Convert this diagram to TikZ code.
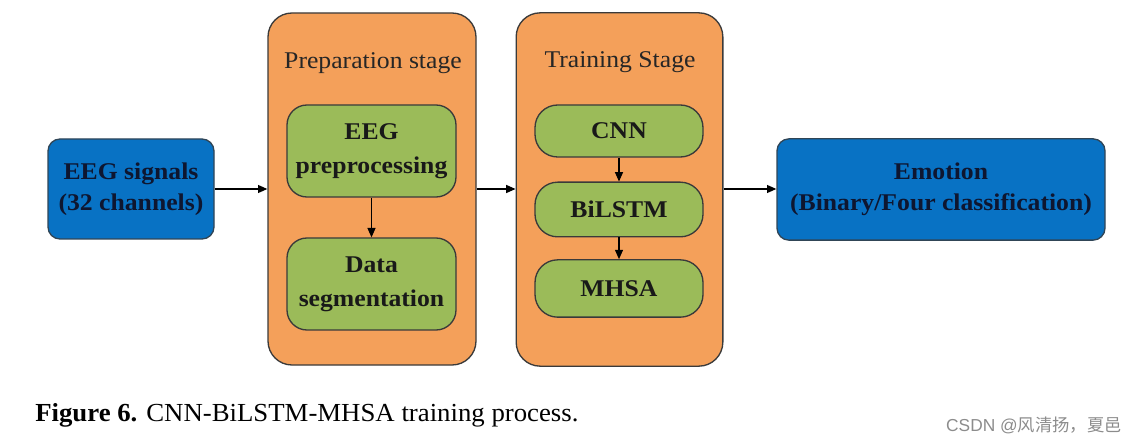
\documentclass[tikz,border=0pt]{standalone}
\usepackage{fontspec}
\setmainfont{Liberation Serif}
\newfontfamily\wideserif[FakeStretch=1.07]{Liberation Serif}
\newfontfamily\capserif[FakeStretch=1.03]{Liberation Serif}
\newfontfamily\cjkfont{Noto Sans CJK SC}
\newfontfamily\wmfont{Liberation Sans}
\usetikzlibrary{arrows.meta,positioning}
\definecolor{boxblue}{HTML}{0872C4}
\definecolor{boxorange}{HTML}{F4A05A}
\definecolor{boxgreen}{HTML}{9BBB59}
\definecolor{edgegray}{HTML}{3A3A3A}
\definecolor{navytext}{HTML}{0E1630}
\tikzset{
  px/.style={x=0.75pt,y=-0.75pt},
  bluebox/.style={draw=edgegray!80!boxblue,line width=1pt,fill=boxblue,rounded corners=9pt,text=navytext,font=\wideserif\fontsize{18}{23.3}\selectfont\bfseries,align=center,inner sep=0pt},
  stagebox/.style={draw=edgegray,line width=1pt,fill=boxorange,rounded corners=18pt,inner sep=0pt},
  greenbox/.style={draw=edgegray,line width=1pt,fill=boxgreen,rounded corners=15pt,font=\wideserif\fontsize{18}{25.5}\selectfont\bfseries,align=center,inner sep=0pt,text=black!90},
  stagetitle/.style={font=\wideserif\fontsize{18}{20}\selectfont,text=black!85},
  conn/.style={-{Triangle[length=7pt,width=6pt]},line width=0.9pt,black},
}
\begin{document}
\begin{tikzpicture}[px]
\useasboundingbox (0,0) rectangle (1139,445);
% stage containers
\node[stagebox,minimum width=156pt,minimum height=264pt] (prep) at (372,189) {};
\node[stagebox,minimum width=155pt,minimum height=265pt] (train) at (619.5,189.5) {};
\node[stagetitle] (preptitle) at (373,63) {Preparation stage};
\node[stagetitle] (traintitle) at (620,62) {Training Stage};
% outer boxes
\node[bluebox,minimum width=124.5pt,minimum height=75pt] (eeg) at (131,189) {EEG signals\\(32 channels)};
\node[bluebox,minimum width=246pt,minimum height=76pt] (emo) at (941,189.5) {Emotion\\(Binary/Four classification)};
% preparation stage
\node[greenbox,minimum width=126.75pt,minimum height=69pt] (pre) at (371.5,151) {EEG\\preprocessing};
\node[greenbox,minimum width=126.75pt,minimum height=69pt] (seg) at (371.5,284) {Data\\segmentation};
% training stage
\node[greenbox,rounded corners=17pt,minimum width=126pt,minimum height=39pt] (cnn) at (619,131) {CNN};
\node[greenbox,rounded corners=17pt,minimum width=126pt,minimum height=41pt] (bilstm) at (619,209.5) {BiLSTM};
\node[greenbox,rounded corners=17pt,minimum width=126pt,minimum height=43pt] (mhsa) at (619,288.5) {MHSA};
% connectors
\draw[conn] (eeg.east) -- (eeg.east -| prep.west);
\draw[conn] (prep.east |- 0,189) -- (train.west |- 0,189);
\draw[conn] (train.east |- 0,189) -- (emo.west |- 0,189);
\draw[conn] (pre.south) -- (seg.north);
\draw[conn] (cnn.south) -- (bilstm.north);
\draw[conn] (bilstm.south) -- (mhsa.north);
% caption
\node[anchor=base west,font=\capserif\fontsize{19.5}{22}\selectfont,inner sep=0pt] (cap) at (35,421) {\textbf{Figure 6.} CNN-BiLSTM-MHSA training process.};
\node[anchor=base east,font=\fontsize{13}{16}\selectfont,text=black!45,inner sep=0pt] (wm) at (1122,431) {\wmfont CSDN @\cjkfont 风清扬，夏邑};
\end{tikzpicture}
\end{document}
